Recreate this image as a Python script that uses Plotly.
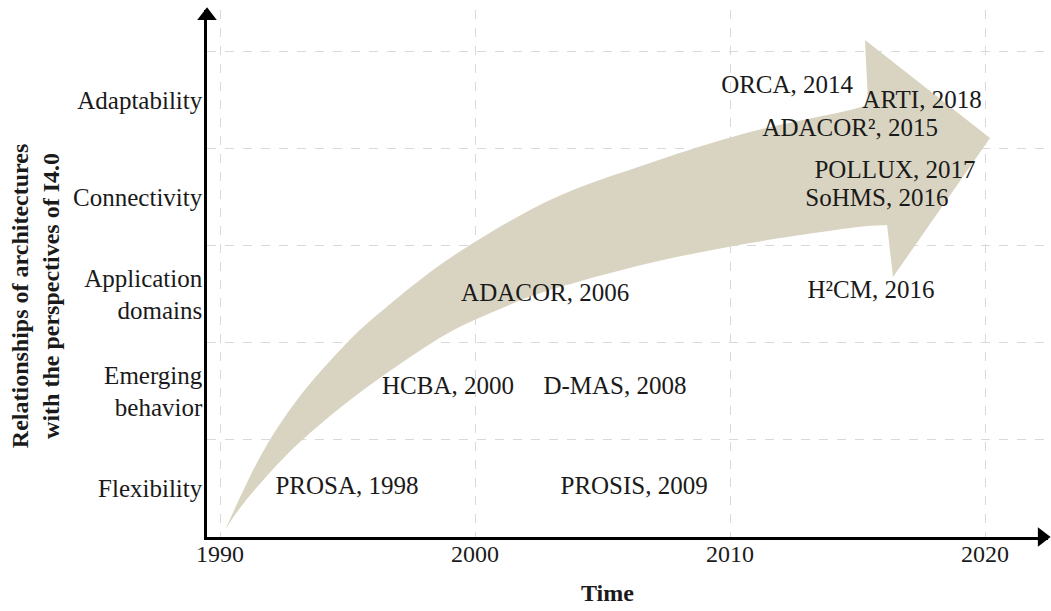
import plotly.graph_objects as go

# ---- data ----
categories = ["Flexibility", "Emerging<br>behavior", "Application<br>domains",
              "Connectivity", "Adaptability"]
category_pos = [0.5, 1.5, 2.5, 3.5, 4.5]
category_bounds = [1, 2, 3, 4, 5]
year_ticks = [1990, 2000, 2010, 2020]

arch_labels = ["PROSA, 1998", "PROSIS, 2009", "HCBA, 2000", "D-MAS, 2008",
               "ADACOR, 2006", "H²CM, 2016", "SoHMS, 2016",
               "POLLUX, 2017", "ADACOR², 2015", "ARTI, 2018",
               "ORCA, 2014"]
label_x = [1994.98, 2006.24, 1998.94, 2005.49, 2002.75, 2015.53, 2015.76,
           2016.47, 2014.71, 2017.53, 2012.24]
label_y = [0.505, 0.505, 1.535, 1.535, 2.494, 2.524, 3.472, 3.761, 4.194,
           4.482, 4.637]

# outline of the big curved trend arrow (decoration; year / category units)
upper_x = [1990.196, 1991.569, 1993.020, 1994.824, 1996.392, 1999.137,
           2002.941, 2006.863, 2010.784, 2014.706, 2015.412]
upper_y = [0.072, 0.824, 1.412, 1.958, 2.339, 2.895, 3.472, 3.854, 4.173,
           4.400, 4.472]
head_x = [2015.294, 2020.196, 2016.392, 2016.157]
head_y = [5.121, 4.111, 2.679, 3.215]
lower_x = [2016.157, 2014.706, 2010.784, 2006.863, 2002.941, 2000.980,
           1999.020, 1997.059, 1995.098, 1993.137, 1991.765, 1990.784,
           1990.196]
lower_y = [3.215, 3.184, 3.029, 2.823, 2.545, 2.349, 2.112, 1.783, 1.412,
           0.979, 0.608, 0.299, 0.072]

FONT = "Liberation Serif, Times New Roman, serif"
GRID = "#d9d9d9"
TAN = "#d9d4c1"


def smooth_segments(xs, ys):
    """Catmull-Rom curve through the outline points, as SVG cubic commands."""
    pts = list(zip(xs, ys))
    n = len(pts)
    out = []
    for i in range(n - 1):
        p0 = pts[max(i - 1, 0)]
        p1 = pts[i]
        p2 = pts[i + 1]
        p3 = pts[min(i + 2, n - 1)]
        c1 = (p1[0] + (p2[0] - p0[0]) / 6, p1[1] + (p2[1] - p0[1]) / 6)
        c2 = (p2[0] - (p3[0] - p1[0]) / 6, p2[1] - (p3[1] - p1[1]) / 6)
        out.append(f"C {c1[0]:.4f},{c1[1]:.4f} {c2[0]:.4f},{c2[1]:.4f} "
                   f"{p2[0]:.4f},{p2[1]:.4f}")
    return " ".join(out)


arrow_path = (f"M {upper_x[0]},{upper_y[0]} "
              + smooth_segments(upper_x, upper_y) + " "
              + " ".join(f"L {x},{y}" for x, y in zip(head_x, head_y)) + " "
              + smooth_segments(lower_x, lower_y) + " Z")

fig = go.Figure()

fig.add_shape(type="path", path=arrow_path, xref="x", yref="y",
              fillcolor=TAN, line=dict(width=0), layer="between")

fig.add_trace(go.Scatter(
    x=label_x, y=label_y, mode="text", text=arch_labels,
    textposition="middle center",
    textfont=dict(family=FONT, size=25, color="#1a1a1a"),
    hoverinfo="skip", showlegend=False))

# axis arrowheads
fig.add_trace(go.Scatter(
    x=[1989.49, 2022.24], y=[5.37, 0], mode="markers", cliponaxis=False,
    marker=dict(symbol=["triangle-up", "triangle-right"], size=17,
                color="black", line=dict(width=0)),
    hoverinfo="skip", showlegend=False))

fig.update_layout(
    width=1051, height=611,
    margin=dict(l=207, r=3, t=10, b=74),
    paper_bgcolor="white", plot_bgcolor="white",
    font=dict(family=FONT, color="#1a1a1a"),
    xaxis=dict(range=[1989.49, 2022.47], tickmode="array", tickvals=year_ticks,
               showgrid=True, gridcolor=GRID, gridwidth=1, griddash="dash",
               showline=True, linecolor="black", linewidth=2.5,
               ticks="", zeroline=False, tickfont=dict(size=24, family=FONT),
               ticklabelstandoff=-7),
    yaxis=dict(range=[0, 5.43], tickmode="array", tickvals=category_pos,
               ticktext=categories, showgrid=False,
               minor=dict(tickmode="array", tickvals=category_bounds,
                          showgrid=True, gridcolor=GRID, gridwidth=1,
                          griddash="dash", ticks="", ticklen=0),
               showline=True, linecolor="black", linewidth=2.5,
               ticks="", zeroline=False, tickfont=dict(size=25, family=FONT),
               ticklabelstandoff=-3),
)

# axis titles
fig.add_annotation(x=2005.2, y=0, xref="x", yref="paper", yshift=-56,
                   xanchor="center", yanchor="middle",
                   showarrow=False, text="<b>Time</b>",
                   font=dict(family=FONT, size=24, color="#1a1a1a"))
fig.add_annotation(x=0, y=0.457, xref="paper", yref="paper", xshift=-172,
                   xanchor="center", yanchor="middle",
                   showarrow=False, textangle=-90,
                   text="<b>Relationships of architectures<br>with the perspectives of I4.0</b>",
                   font=dict(family=FONT, size=24, color="#1a1a1a"))

fig.write_html("out.html", config={"displayModeBar": False},
               post_script="document.body.style.margin='0px';")
